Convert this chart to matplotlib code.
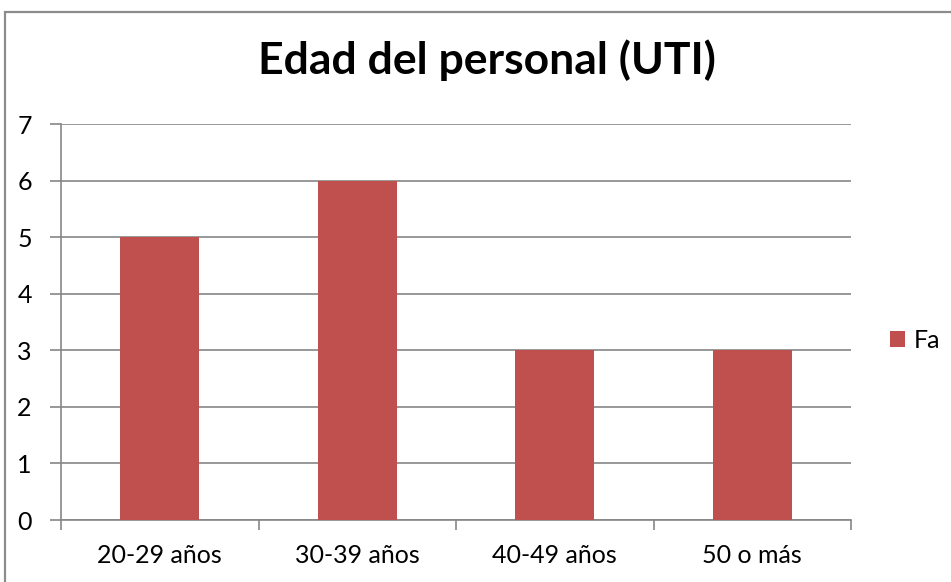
import matplotlib
matplotlib.use("Agg")
import matplotlib.pyplot as plt
from matplotlib.patches import Rectangle
import numpy as np

categories = ["20-29 años", "30-39 años", "40-49 años", "50 o más"]
values = [5, 6, 3, 3]
series_name = "Fa"
title = "Edad del personal (UTI)"
yticks = [0, 1, 2, 3, 4, 5, 6, 7]

plt.rcParams['font.family'] = ['Lato', 'DejaVu Sans']

W, H = 951, 582
fig = plt.figure(figsize=(W/100, H/100), dpi=100)
fig.patch.set_facecolor('white')

# chart border (left and top visible)
fig.patches.append(Rectangle((5/W, -0.1), 1.2, 1 - 12/H + 0.1, transform=fig.transFigure,
                             fill=False, edgecolor='#8c8c8c', linewidth=1.6))

left, right, top, bottom = 61/W, 851/W, 1-124/H, 1-520/H
ax = fig.add_axes([left, bottom, right-left, top-bottom])

x = np.arange(len(categories))
bars = ax.bar(x, values, width=0.4, color='#C0504D', zorder=3, label=series_name)

ax.set_xlim(-0.5, len(categories)-0.5)
ax.set_ylim(0, 7)
ax.set_yticks(yticks)
ax.set_yticklabels([str(v) for v in yticks], fontsize=18)
ax.yaxis.grid(True, color='#868686', linewidth=1.2, zorder=0)
ax.set_axisbelow(True)

ax.set_xticks(x)
ax.set_xticklabels(categories, fontsize=18)
ax.tick_params(axis='x', length=0, pad=17)
ax.set_xticks(np.arange(len(categories)+1)-0.5, minor=True)
ax.tick_params(axis='x', which='minor', length=7, width=1.2, color='#868686')
ax.tick_params(axis='y', length=8, width=1.2, color='#868686', pad=13)

for s in ['top', 'right']:
    ax.spines[s].set_visible(False)
for s in ['left', 'bottom']:
    ax.spines[s].set_color('#868686')
    ax.spines[s].set_linewidth(1.2)

fig.text(487/W, 1-60/H, title, fontsize=32, fontweight='bold', ha='center', va='center')

leg = fig.legend(loc='center left', bbox_to_anchor=(890/W, 1-340/H), frameon=False,
                 fontsize=18, handlelength=0.6, handleheight=0.6, handletextpad=0.35,
                 borderpad=0, borderaxespad=0)

fig.savefig("out.png", dpi=100)
